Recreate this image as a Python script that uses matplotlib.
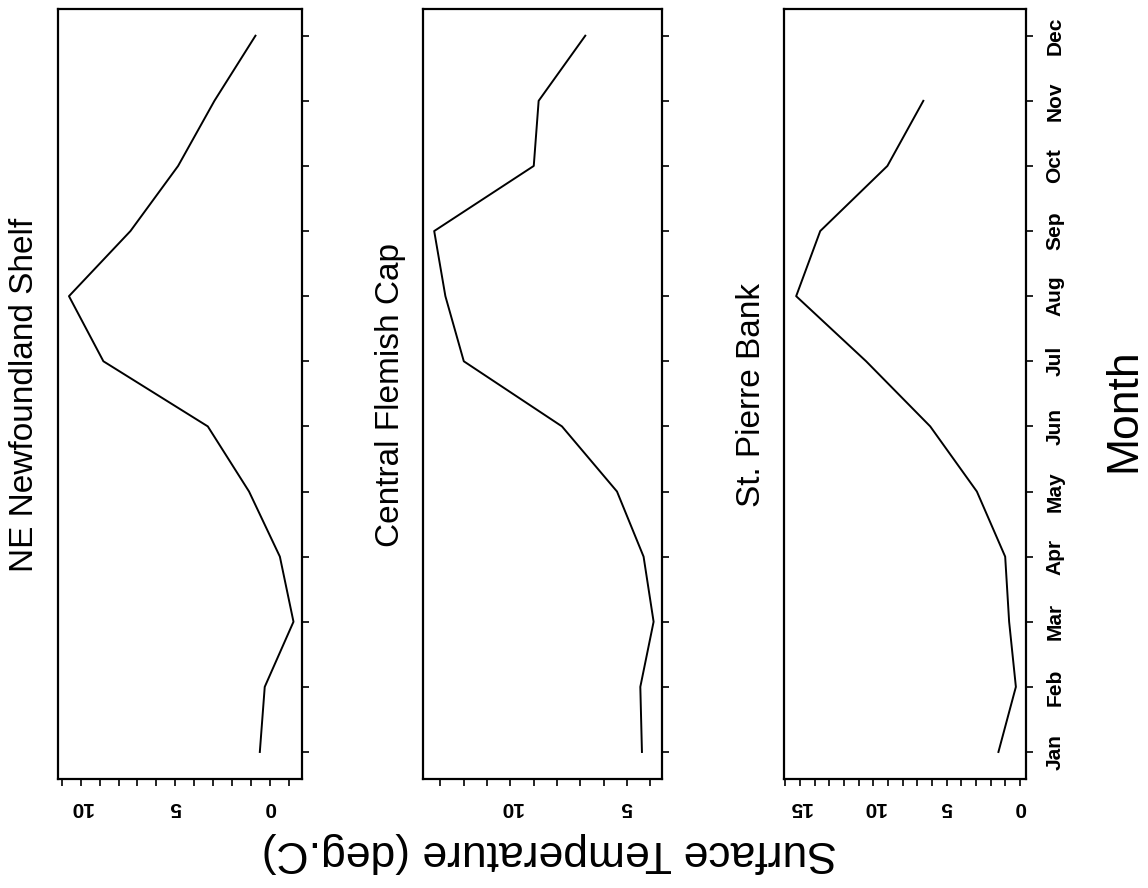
import matplotlib.pyplot as plt
import numpy as np

plt.rcParams["font.family"] = ["Liberation Sans", "DejaVu Sans"]

months = ["Jan", "Feb", "Mar", "Apr", "May", "Jun",
          "Jul", "Aug", "Sep", "Oct", "Nov", "Dec"]
month_num = list(range(1, 13))

# surface temperature (deg C) by month
ne_shelf = [0.53, 0.27, -1.25, -0.53, 1.1, 3.28, 8.8, 10.62, 7.37, 4.85, 2.93, 0.76]
flemish_cap = [4.36, 4.43, 3.86, 4.29, 5.43, 7.79, 12.0, 12.79, 13.27, 9.0, 8.79, 6.79]
st_pierre = [1.48, 0.29, 0.75, 1.02, 2.95, 6.13, 10.5, 15.27, 13.63, 9.05, 6.6, np.nan]

titles = ["NE Newfoundland Shelf", "Central Flemish Cap", "St. Pierre Bank"]
series = [ne_shelf, flemish_cap, st_pierre]
label_ticks = [[0, 5, 10], [5, 10], [0, 5, 10, 15]]
minor_ticks = [range(-1, 12), range(4, 14), range(0, 17)]
xlims = [(11.2, -1.7), (13.75, 3.5), (16.1, -0.4)]

W, H = 1148, 888
fig = plt.figure(figsize=(W / 100, H / 100), dpi=100)

boxes = [(58, 302), (423, 662), (784, 1026)]
top, bottom = 9, 779

for i in range(3):
    left, right = boxes[i]
    ax = fig.add_axes([left / W, 1 - bottom / H, (right - left) / W, (bottom - top) / H])
    ax.plot(series[i], month_num, color="black", lw=1.4)
    ax.set_xlim(*xlims[i])
    ax.set_ylim(0.585, 12.41)
    for s in ax.spines.values():
        s.set_linewidth(1.6)

    # months run up the right edge
    ax.yaxis.tick_right()
    ax.set_yticks(month_num)
    if i == 2:
        ax.set_yticklabels(months, rotation=90, va="center", ha="left",
                           fontsize=15, fontweight="bold")
    else:
        ax.set_yticklabels([])
    ax.tick_params(axis="y", direction="out", length=5, width=1.2, pad=9)

    # temperature along the bottom, upside down
    ax.set_xticks(label_ticks[i])
    ax.set_xticklabels([str(t) for t in label_ticks[i]], rotation=180,
                       fontsize=15, fontweight="bold")
    ax.set_xticks(list(minor_ticks[i]), minor=True)
    ax.tick_params(axis="x", which="both", direction="out", length=5, width=1.2, pad=9)

    fig.text((left - 33) / W, 1 - 395 / H, titles[i], rotation=90,
             ha="center", va="center", fontsize=24)

fig.text(549 / W, 1 - 852 / H, "Surface Temperature (deg.C)", rotation=180,
         ha="center", va="center", fontsize=32)
fig.text(1124 / W, 1 - 410 / H, "Month", rotation=90,
         ha="center", va="center", fontsize=32)

plt.savefig("out.png", dpi=100)
